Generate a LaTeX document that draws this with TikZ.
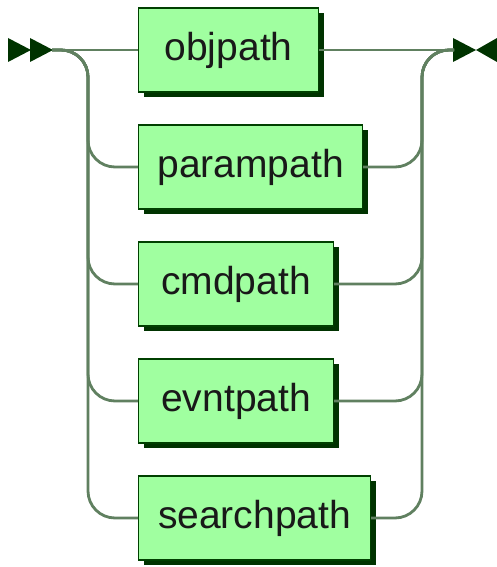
\documentclass[tikz,border=0pt]{standalone}
\usepackage{fontspec}
\setmainfont{Liberation Sans}
\usetikzlibrary{shadows}

\definecolor{boxfill}{RGB}{160,255,160}
\definecolor{boxline}{RGB}{0,64,0}
\definecolor{railcol}{RGB}{96,128,96}
\definecolor{markcol}{RGB}{0,51,0}

\tikzset{
  term/.style={draw=boxline, line width=1.2pt, fill=boxfill, anchor=west,
    minimum height=84pt, inner sep=0pt, text=black!90,
    font=\fontsize{39}{46}\selectfont,
    drop shadow={shadow xshift=5pt, shadow yshift=-5pt, fill=markcol, opacity=1}},
  rail/.style={draw=railcol, line width=2.8pt, rounded corners=27pt},
  marker/.style={fill=markcol}
}

\begin{document}
\begin{tikzpicture}[x=1pt, y=-1pt]
    \useasboundingbox (0,0) rectangle (497,567);

    % start and end markers
    \fill[marker] (8,38) -- (31,50) -- (8,62) -- cycle;
    \fill[marker] (30,38) -- (53,50) -- (30,62) -- cycle;
    \fill[marker] (453,38) -- (476,50) -- (453,62) -- cycle;
    \fill[marker] (497,38) -- (476,50) -- (497,62) -- cycle;
    \coordinate (start) at (52,50);
    \coordinate (end) at (454,50);

    % junction columns
    \coordinate (jl) at (88,50);
    \coordinate (jr) at (422,50);

    % the choices
    \node[term, minimum width=180pt] (objpath) at (138,50) {objpath};
    \node[term, minimum width=224pt] (parampath) at (138,167) {parampath};
    \node[term, minimum width=195pt] (cmdpath) at (138,284) {cmdpath};
    \node[term, minimum width=195pt] (evntpath) at (138,401) {evntpath};
    \node[term, minimum width=232pt] (searchpath) at (138,518) {searchpath};

    % straight through
    \draw[rail] (start) -- (objpath.west);
    \draw[rail] (objpath.east) -- (end);

    % branches on the left
    \draw[rail] (start) -| (jl |- parampath.west) -- (parampath.west);
    \draw[rail] (start) -| (jl |- cmdpath.west) -- (cmdpath.west);
    \draw[rail] (start) -| (jl |- evntpath.west) -- (evntpath.west);
    \draw[rail] (start) -| (jl |- searchpath.west) -- (searchpath.west);

    % branches on the right
    \draw[rail] (parampath.east) -| (jr) -- (end);
    \draw[rail] (cmdpath.east) -| (jr) -- (end);
    \draw[rail] (evntpath.east) -| (jr) -- (end);
    \draw[rail] (searchpath.east) -| (jr) -- (end);
\end{tikzpicture}
\end{document}
